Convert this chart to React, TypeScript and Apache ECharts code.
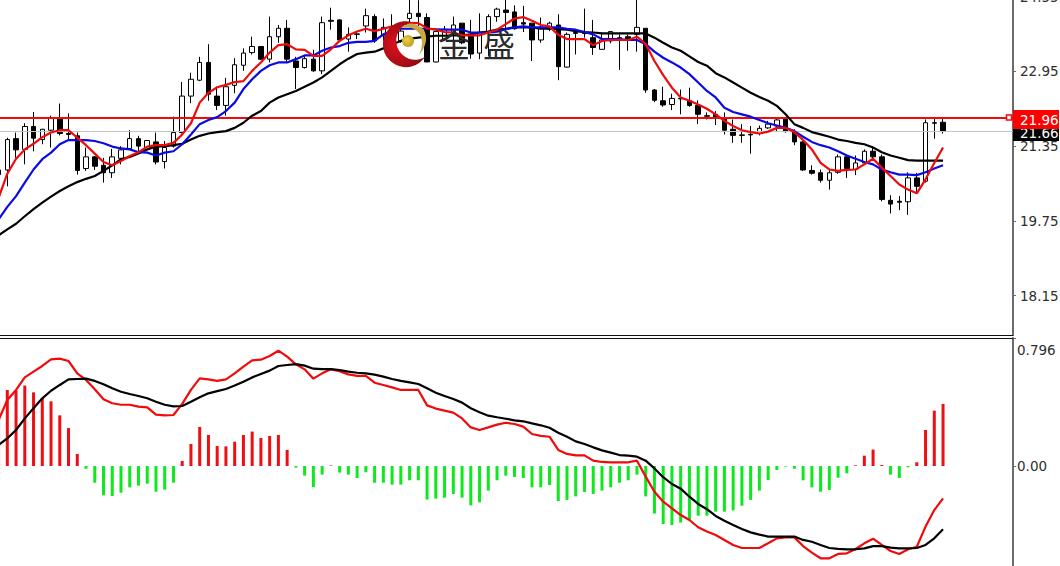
import React, { useEffect, useRef } from "react";
import * as echarts from "echarts";

// [open, close, low, high]
const candles: number[][] = [
  [20.84,20.74,20.71,20.89],
  [20.84,21.49,20.49,21.53],[21.51,21.27,21.10,21.64],[21.28,21.77,20.96,21.84],[21.77,21.52,21.24,22.08],[21.49,21.71,21.39,21.72],
  [21.69,21.94,21.32,22.00],[21.94,21.62,21.58,22.26],[21.62,21.60,21.46,22.05],[21.57,20.83,20.74,21.64],[20.87,21.12,20.82,21.32],
  [21.12,20.92,20.84,21.14],[20.94,20.78,20.57,21.10],[20.78,21.12,20.67,21.29],[21.09,21.27,20.96,21.35],[21.30,21.51,21.28,21.69],
  [21.51,21.35,21.21,21.57],[21.28,21.47,21.24,21.48],[21.44,21.01,20.96,21.64],[21.02,21.32,20.87,21.46],[21.35,21.64,21.32,21.98],
  [21.64,22.42,21.62,22.72],[22.42,22.78,22.27,22.92],[22.76,23.14,22.74,23.26],[23.14,22.46,22.32,23.53],[22.42,22.22,22.12,22.62],
  [22.22,22.62,22.00,22.81],[22.65,23.09,22.48,23.23],[23.08,23.34,22.96,23.44],[23.35,23.48,23.31,23.69],[23.48,23.21,23.19,23.49],
  [23.21,23.69,23.14,24.12],[23.69,23.87,23.56,23.94],[23.87,23.21,23.15,24.05],[23.17,23.03,22.57,23.26],[23.03,23.22,23.01,23.28],
  [23.21,22.96,22.94,23.41],[22.96,23.99,22.89,24.12],[24.04,24.02,23.84,24.31],[24.05,23.62,23.60,24.06],[23.64,23.74,23.37,23.89],
  [23.75,23.74,23.64,23.81],[23.92,24.14,23.78,24.29],[24.12,23.60,23.56,24.17],[23.71,23.89,23.60,24.08],[23.78,23.85,23.74,24.17],
  [23.60,23.81,23.56,23.85],[24.08,24.19,23.99,24.50],[24.19,24.12,23.89,24.47],[24.10,23.15,23.15,24.19],[23.15,23.80,23.14,23.81],
  [23.64,23.85,23.60,23.92],[23.78,23.94,23.56,24.12],[23.98,23.56,23.53,23.98],[23.74,23.32,23.22,24.05],[23.34,23.78,23.21,24.19],
  [23.78,24.12,23.28,24.17],[24.12,24.28,24.01,24.31],[24.26,24.21,23.78,24.50],[24.22,23.86,23.84,24.36],[23.99,23.96,23.79,24.35],
  [23.98,23.62,23.17,23.98],[23.62,23.89,23.56,24.10],[23.85,23.98,23.81,24.01],[23.94,23.05,22.76,24.17],[23.04,23.74,23.03,23.78],
  [23.76,23.78,23.31,23.81],[23.78,23.76,23.67,24.29],[23.67,23.46,23.30,24.05],[23.42,23.62,23.42,23.78],[23.60,23.80,23.55,23.81],
  [23.62,23.67,22.98,23.74],[23.69,23.64,23.39,23.74],[23.74,23.89,23.37,24.50],[23.87,22.55,22.49,23.87],[22.55,22.33,22.29,22.57],
  [22.32,22.23,22.19,22.62],[22.24,22.37,22.12,22.47],[22.37,22.36,22.03,22.56],[22.32,22.22,22.19,22.60],[22.22,22.03,21.82,22.33],
  [22.00,21.99,21.92,22.07],[22.03,21.96,21.80,22.10],[21.96,21.69,21.60,22.07],[21.71,21.58,21.42,21.92],[21.59,21.58,21.42,21.82],
  [21.60,21.59,21.19,21.78],[21.62,21.73,21.58,21.79],[21.74,21.82,21.72,21.89],[21.78,21.91,21.65,21.96],[21.94,21.66,21.64,21.96],
  [21.66,21.44,21.37,21.71],[21.44,20.84,20.82,21.46],[20.83,20.77,20.74,20.94],[20.78,20.62,20.57,20.85],[20.62,20.78,20.42,20.85],
  [20.79,21.12,20.76,21.17],[21.12,20.87,20.67,21.14],[20.85,20.99,20.73,21.15],[20.99,21.24,20.98,21.28],[21.24,21.12,21.08,21.35],
  [21.12,20.21,20.17,21.17],[20.19,20.11,19.91,20.30],[20.17,20.15,19.98,20.28],[20.16,20.67,19.88,20.79],[20.67,20.49,20.37,20.78],
  [20.60,21.85,20.57,21.92],[21.85,21.84,21.51,21.96],[21.86,21.67,21.62,21.96],
];

const maFast: number[] = [
  20.24,
  20.76,21.08,21.28,21.40,21.54,21.64,21.69,21.69,21.53,21.37,
  21.19,21.01,20.94,21.03,21.14,21.22,21.34,21.37,21.37,21.42,
  21.60,21.84,22.28,22.49,22.61,22.66,22.72,22.74,22.96,23.14,
  23.35,23.51,23.53,23.42,23.41,23.28,23.28,23.42,23.60,23.72,
  23.80,23.86,23.81,23.86,23.91,23.94,23.98,23.98,23.87,23.84,
  23.79,23.78,23.72,23.72,23.72,23.78,23.84,23.96,24.08,24.11,
  24.03,23.94,23.91,23.73,23.64,23.64,23.64,23.51,23.60,23.62,
  23.62,23.62,23.69,23.53,23.17,22.87,22.60,22.39,22.32,22.24,
  22.15,22.03,21.89,21.78,21.69,21.65,21.62,21.66,21.74,21.74,
  21.65,21.48,21.28,20.99,20.85,20.82,20.84,20.85,20.96,21.08,
  20.89,20.71,20.53,20.42,20.34,20.64,20.99,21.32,
];

const maMid: number[] = [
  19.78,
  20.05,20.28,20.57,20.85,21.07,21.21,21.39,21.48,21.48,21.48,
  21.46,21.41,21.34,21.30,21.28,21.22,21.21,21.15,21.21,21.24,
  21.39,21.60,21.82,21.91,21.97,22.10,22.28,22.57,22.78,22.96,
  23.08,23.14,23.14,23.21,23.29,23.29,23.39,23.46,23.49,23.56,
  23.58,23.58,23.60,23.74,23.81,23.86,23.86,23.86,23.86,23.85,
  23.84,23.84,23.84,23.78,23.78,23.78,23.80,23.85,23.89,23.91,
  23.89,23.89,23.89,23.89,23.86,23.84,23.79,23.74,23.64,23.64,
  23.64,23.62,23.62,23.53,23.37,23.24,23.14,23.03,22.89,22.71,
  22.53,22.39,22.17,22.08,22.03,21.98,21.91,21.84,21.79,21.74,
  21.67,21.55,21.44,21.37,21.32,21.24,21.15,21.08,21.01,20.96,
  20.85,20.79,20.74,20.74,20.73,20.79,20.87,20.94,
];

const maSlow: number[] = [
  19.44,
  19.57,19.69,19.85,20.00,20.14,20.27,20.39,20.49,20.58,20.65,
  20.71,20.82,20.94,21.07,21.12,21.19,21.28,21.34,21.35,21.37,
  21.40,21.49,21.57,21.62,21.65,21.67,21.74,21.85,22.00,22.10,
  22.28,22.39,22.46,22.53,22.62,22.71,22.82,22.96,23.10,23.22,
  23.32,23.35,23.37,23.44,23.53,23.60,23.65,23.67,23.69,23.71,
  23.71,23.72,23.72,23.74,23.78,23.80,23.84,23.86,23.89,23.89,
  23.89,23.86,23.86,23.85,23.84,23.81,23.79,23.78,23.76,23.76,
  23.76,23.76,23.76,23.76,23.67,23.56,23.46,23.39,23.27,23.15,
  23.07,22.91,22.82,22.71,22.60,22.49,22.40,22.32,22.21,22.03,
  21.82,21.74,21.65,21.60,21.55,21.49,21.46,21.42,21.39,21.32,
  21.22,21.15,21.10,21.05,21.04,21.04,21.04,21.04,
];

const macdHist: number[] = [
  0.41,
  0.473,0.468,0.50,0.458,0.421,0.402,0.315,0.236,0.075,-0.017,
  -0.104,-0.182,-0.187,-0.166,-0.133,-0.122,-0.11,-0.16,-0.147,-0.104,
  0.031,0.137,0.243,0.193,0.124,0.122,0.151,0.193,0.214,0.174,
  0.187,0.193,0.10,-0.01,-0.06,-0.131,-0.054,0.003,-0.041,-0.054,
  -0.075,-0.039,-0.104,-0.104,-0.116,-0.116,-0.089,-0.089,-0.209,-0.203,
  -0.197,-0.174,-0.197,-0.245,-0.226,-0.153,-0.089,-0.06,-0.068,-0.075,
  -0.133,-0.133,-0.118,-0.218,-0.211,-0.189,-0.162,-0.174,-0.153,-0.133,
  -0.104,-0.089,-0.054,-0.189,-0.296,-0.361,-0.367,-0.352,-0.336,-0.309,
  -0.309,-0.284,-0.284,-0.276,-0.247,-0.211,-0.153,-0.087,-0.025,-0.004,
  -0.017,-0.089,-0.133,-0.16,-0.149,-0.073,-0.046,0.004,0.064,0.102,
  0.006,-0.054,-0.075,-0.008,0.023,0.224,0.344,0.386,
];

const macdLine: number[] = [
  0.286,
  0.410,0.473,0.551,0.587,0.622,0.663,0.668,0.653,0.576,0.535,
  0.477,0.415,0.390,0.381,0.381,0.369,0.365,0.319,0.315,0.317,
  0.386,0.473,0.545,0.539,0.529,0.539,0.576,0.618,0.657,0.661,
  0.684,0.717,0.680,0.632,0.601,0.543,0.576,0.601,0.589,0.570,
  0.560,0.560,0.518,0.504,0.489,0.473,0.473,0.473,0.377,0.357,
  0.344,0.332,0.296,0.240,0.224,0.240,0.257,0.269,0.261,0.245,
  0.199,0.187,0.182,0.100,0.075,0.066,0.066,0.033,0.025,0.023,
  0.023,0.023,0.033,-0.066,-0.160,-0.222,-0.263,-0.305,-0.336,-0.381,
  -0.408,-0.429,-0.460,-0.491,-0.510,-0.510,-0.510,-0.481,-0.450,-0.444,
  -0.444,-0.498,-0.539,-0.574,-0.574,-0.547,-0.543,-0.516,-0.481,-0.452,
  -0.491,-0.529,-0.547,-0.518,-0.502,-0.377,-0.274,-0.201,
];

const macdSignal: number[] = [
  0.131,
  0.172,0.224,0.296,0.359,0.421,0.468,0.504,0.539,0.541,0.543,
  0.529,0.508,0.483,0.462,0.448,0.435,0.421,0.400,0.381,0.371,
  0.373,0.400,0.427,0.452,0.466,0.479,0.500,0.524,0.551,0.572,
  0.593,0.622,0.628,0.634,0.624,0.605,0.603,0.603,0.597,0.587,
  0.580,0.576,0.568,0.556,0.541,0.529,0.520,0.510,0.483,0.456,
  0.435,0.417,0.394,0.359,0.334,0.313,0.303,0.294,0.284,0.278,
  0.265,0.253,0.238,0.207,0.182,0.153,0.137,0.116,0.097,0.083,
  0.068,0.064,0.058,0.033,-0.015,-0.070,-0.112,-0.141,-0.191,-0.236,
  -0.269,-0.311,-0.340,-0.367,-0.392,-0.413,-0.427,-0.439,-0.439,-0.439,
  -0.439,-0.460,-0.471,-0.491,-0.510,-0.516,-0.518,-0.518,-0.512,-0.498,
  -0.498,-0.508,-0.512,-0.512,-0.510,-0.491,-0.450,-0.394,
];

const priceTicks = [18.15, 19.75, 21.35, 22.95, 24.55];
const macdTicks = [0, 0.796];
const alertPrice = 21.96;
const lastPrice = 21.66;
const slotCount = 117; // bars plus the empty space to the right of the last bar
const categories = Array.from({ length: slotCount }, (_, i) => String(i));

const RED = "#f00a0a";
const AXIS_GRAY = "#6a6a6a";
const LABEL = "#2e2e2e";
const FONT = "'DejaVu Sans'";

echarts.graphic.registerShape(
  "crescent",
  echarts.graphic.extendPath("M32 1 A23 23 0 1 0 45 36 A19 19 0 1 1 32 1 Z", {})
);
echarts.graphic.registerShape(
  "swoosh",
  echarts.graphic.extendPath("M21 7 Q32 -3 44 9 Q50 21 39 34 Q45 21 39 12 Q32 4 21 7 Z", {})
);

export default function App() {
  const ref = useRef<HTMLDivElement>(null);
  useEffect(() => {
    document.body.style.margin = "0";
    document.body.style.overflow = "hidden";
    const chart = echarts.init(ref.current!, undefined, { renderer: "svg" });
    const line = (name: string, data: number[], color: string, idx: number, width = 2.2) => ({
      name,
      type: "line",
      data,
      xAxisIndex: idx,
      yAxisIndex: idx,
      showSymbol: false,
      symbol: "none",
      smooth: false,
      lineStyle: { color, width },
      itemStyle: { color },
      silent: true,
      z: 5,
    });
    chart.setOption({
      animation: false,
      backgroundColor: "#ffffff",
      textStyle: { fontFamily: FONT },
      grid: [
        { left: -1.44, width: 1014.44, top: -3.5, height: 338.5, outerBoundsMode: "none", containLabel: false },
        { left: -1.44, width: 1014.44, top: 338, height: 228, outerBoundsMode: "none", containLabel: false },
      ],
      xAxis: [
        {
          type: "category", gridIndex: 0, data: categories, boundaryGap: false,
          axisLine: { show: true, onZero: false, lineStyle: { color: "#111", width: 1 } },
          axisTick: { show: false }, axisLabel: { show: false }, splitLine: { show: false },
        },
        {
          type: "category", gridIndex: 1, data: categories, boundaryGap: false, position: "top",
          axisLine: { show: true, onZero: false, lineStyle: { color: "#111", width: 1 } },
          axisTick: { show: false }, axisLabel: { show: false }, splitLine: { show: false },
        },
      ],
      yAxis: [
        {
          type: "value", gridIndex: 0, position: "right", min: 17.31, max: 24.55,
          splitLine: { show: false },
          axisLine: { show: true, lineStyle: { color: AXIS_GRAY, width: 2 } },
          axisTick: { show: true, length: 3, customValues: priceTicks, lineStyle: { color: AXIS_GRAY } },
          axisLabel: {
            customValues: priceTicks, margin: 7, color: LABEL, fontFamily: FONT, fontSize: 13.5,
            formatter: (v: number) => v.toFixed(2),
          },
        },
        {
          type: "value", gridIndex: 1, position: "right", min: -0.622, max: 0.796,
          splitLine: { show: false },
          axisLine: { show: true, onZero: false, lineStyle: { color: AXIS_GRAY, width: 2 } },
          axisTick: { show: true, length: 3, customValues: macdTicks, lineStyle: { color: AXIS_GRAY } },
          axisLabel: {
            customValues: macdTicks, margin: 4, color: LABEL, fontFamily: FONT, fontSize: 13.5, lineHeight: 24,
            verticalAlignMaxLabel: "top",
            formatter: (v: number) => (v === 0 ? "0.00" : String(v)),
          },
        },
      ],
      series: [
        {
          name: "Price", type: "candlestick", xAxisIndex: 0, yAxisIndex: 0, data: candles, barWidth: 5, silent: true,
          itemStyle: { color: "#ffffff", color0: "#000000", borderColor: "#000000", borderColor0: "#000000", borderWidth: 1 },
          z: 3,
          markLine: {
            silent: true, symbol: "none", animation: false,
            data: [
              {
                yAxis: lastPrice,
                lineStyle: { color: "#c4c4c4", width: 1, type: "solid" },
                label: {
                  show: true, position: "end", distance: 0, offset: [0, 1], formatter: lastPrice.toFixed(2),
                  color: "#ffffff", backgroundColor: "#000000", fontFamily: FONT, fontSize: 13.5,
                  padding: [1, 1, 3, 7], width: 38, height: 13, lineHeight: 13,
                },
              },
              {
                yAxis: alertPrice,
                lineStyle: { color: RED, width: 2, type: "solid" },
                label: {
                  show: true, position: "end", distance: 0, offset: [0, 2], formatter: alertPrice.toFixed(2),
                  color: "#ffffff", backgroundColor: "#ff0000", fontFamily: FONT, fontSize: 13.5,
                  padding: [3, 1, 3, 7], width: 38, height: 13, lineHeight: 13,
                },
              },
            ],
          },
        },
        line("MA slow", maSlow, "#000000", 0),
        line("MA mid", maMid, "#0a0ae6", 0),
        line("MA fast", maFast, RED, 0),
        {
          name: "Histogram", type: "bar", xAxisIndex: 1, yAxisIndex: 1, data: macdHist, barWidth: 3, silent: true,
          itemStyle: { color: (p: any) => (p.value >= 0 ? "#ee0f14" : "#0ee81e") },
        },
        line("MACD", macdLine, RED, 1),
        line("Signal", macdSignal, "#000000", 1),
      ],
    });
    const sy = chart.convertToPixel({ yAxisIndex: 0 }, alertPrice) as number;
    chart.setOption({
      graphic: [
        { type: "rect", shape: { x: 1006.5, y: sy - 2.5, width: 5, height: 5 }, style: { fill: "#fff", stroke: RED, lineWidth: 1.5 }, z: 50 },
        {
          type: "crescent", x: 380, y: 21, z: 60, silent: true,
          style: {
            fill: new echarts.graphic.RadialGradient(0.35, 0.5, 0.7, [
              { offset: 0, color: "#e01020" },
              { offset: 1, color: "#8a0a10" },
            ]),
          },
        },
        { type: "swoosh", x: 380, y: 21, z: 60, silent: true, style: { fill: "#c7a93f" } },
        {
          type: "circle", shape: { cx: 408, cy: 41, r: 6 }, z: 61, silent: true,
          style: {
            fill: new echarts.graphic.RadialGradient(0.4, 0.4, 0.7, [
              { offset: 0, color: "#ecd040" },
              { offset: 1, color: "#b89a20" },
            ]),
          },
        },
        { type: "text", x: 438, y: 27, z: 61, silent: true, style: { text: "金", fill: "#2a2a2a", font: "400 32px 'Noto Sans CJK SC'" } },
        { type: "text", x: 483, y: 27, z: 61, silent: true, style: { text: "盛", fill: "#2a2a2a", font: "400 32px 'Noto Sans CJK SC'" } },
      ],
    });
    return () => chart.dispose();
  }, []);
  return <div ref={ref} style={{ width: 1060, height: 566 }} />;
}
